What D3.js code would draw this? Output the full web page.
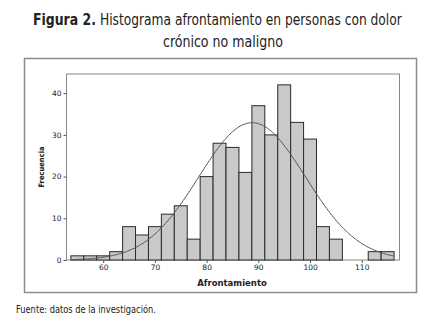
<!DOCTYPE html>
<html>
<head>
<meta charset="utf-8">
<script src="https://cdn.jsdelivr.net/npm/d3@7"></script>
<style>
    body { margin: 0; background: #fff; }
    .cond { font-family: "DejaVu Sans Condensed", "Roboto", sans-serif; }
    .axis text { font-family: "DejaVu Sans", sans-serif; font-size: 7.5px; fill: #222; }
    .axis path, .axis line { stroke: #555; }
</style>
</head>
<body>
<div id="chart"></div>
<script>
// bin centres (width 2.5) and counts
let binCenters = [55, 57.5, 60, 62.5, 65, 67.5, 70, 72.5, 75, 77.5, 80, 82.5, 85, 87.5,
    90, 92.5, 95, 97.5, 100, 102.5, 105, 107.5, 110, 112.5, 115];
let counts = [1, 1, 1, 2, 8, 6, 8, 11, 13, 5, 20, 28, 27, 21,
    37, 30, 42, 33, 29, 8, 5, 0, 0, 2, 2];
let binWidth = 2.5;
let xTicks = [60, 70, 80, 90, 100, 110];
let yTicks = [0, 10, 20, 30, 40];
// fitted normal curve parameters
let fitMean = 88.8;
let fitSd = 10.3;

let W = 431, H = 326;
let plot = {left: 66.5, right: 399.5, top: 74, bottom: 260};

let svg = d3.select("#chart").append("svg")
    .attr("width", W)
    .attr("height", H);

// narrow text: squeeze horizontally to the width of the original face
function narrowText(str, x, y, width, size, bold) {
    let t = svg.append("text")
        .attr("class", "cond")
        .attr("font-size", size + "px")
        .attr("font-weight", bold ? "bold" : "normal")
        .attr("fill", "#222")
        .text(str);
    let k = width / t.node().getComputedTextLength();
    t.attr("transform", `translate(${x},${y}) scale(${k},1)`);
    return t;
}

// title
narrowText("Figura 2.", 33, 25, 63, 16, true);
narrowText("Histograma afrontamiento en personas con dolor", 100, 25, 302, 16, false);
narrowText("crónico no maligno", 163, 47, 120, 16, false);

// outer frame
svg.append("rect")
    .attr("x", 24.5).attr("y", 58.5)
    .attr("width", 392).attr("height", 234)
    .attr("fill", "none")
    .attr("stroke", "#8c8c8c")
    .attr("stroke-width", 1.5);

let x = d3.scaleLinear()
    .domain([52.9, 117.3])
    .range([plot.left, plot.right]);
let y = d3.scaleLinear()
    .domain([0, 44.6])
    .range([plot.bottom, plot.top]);

// plot frame
svg.append("rect")
    .attr("x", plot.left).attr("y", plot.top)
    .attr("width", plot.right - plot.left).attr("height", plot.bottom - plot.top)
    .attr("fill", "none")
    .attr("stroke", "#888")
    .attr("stroke-width", 1);

// bars
svg.append("g")
    .selectAll("rect")
    .data(binCenters.map((c, i) => ({c: c, n: counts[i]})).filter(d => d.n > 0))
    .join("rect")
    .attr("x", d => x(d.c - binWidth / 2))
    .attr("y", d => y(d.n))
    .attr("width", d => x(d.c + binWidth / 2) - x(d.c - binWidth / 2))
    .attr("height", d => y(0) - y(d.n))
    .attr("fill", "#c9c9c9")
    .attr("stroke", "#2b2b2b")
    .attr("stroke-width", 1);

// fitted normal curve
let total = d3.sum(counts);
let normal = v => total * binWidth / (fitSd * Math.sqrt(2 * Math.PI)) *
    Math.exp(-Math.pow(v - fitMean, 2) / (2 * fitSd * fitSd));
let curveX = d3.range(53.75, 116.26, 0.25);
svg.append("path")
    .datum(curveX)
    .attr("fill", "none")
    .attr("stroke", "#555")
    .attr("stroke-width", 1)
    .attr("d", d3.line().x(d => x(d)).y(d => y(normal(d))));

// axes
let xAxis = d3.axisBottom(x).tickValues(xTicks).tickSize(3).tickPadding(2).tickSizeOuter(0);
let yAxis = d3.axisLeft(y).tickValues(yTicks).tickSize(3).tickPadding(2).tickSizeOuter(0);
let gx = svg.append("g")
    .attr("class", "axis")
    .attr("transform", `translate(0,${plot.bottom})`)
    .call(xAxis);
gx.select(".domain").remove();
let gy = svg.append("g")
    .attr("class", "axis")
    .attr("transform", `translate(${plot.left},0)`)
    .call(yAxis);
gy.select(".domain").remove();

// axis labels
svg.append("text")
    .attr("x", 232)
    .attr("y", 286)
    .attr("text-anchor", "middle")
    .attr("font-family", "DejaVu Sans, sans-serif")
    .attr("font-weight", "bold")
    .attr("font-size", "8.5px")
    .attr("fill", "#222")
    .text("Afrontamiento");
svg.append("text")
    .attr("transform", "translate(44,167) rotate(-90)")
    .attr("text-anchor", "middle")
    .attr("font-family", "DejaVu Sans Condensed, sans-serif")
    .attr("font-weight", "bold")
    .attr("font-size", "7.5px")
    .attr("fill", "#222")
    .text("Frecuencia");

// source note
narrowText("Fuente: datos de la investigación.", 16, 313, 140, 10.5, false);
</script>
</body>
</html>
